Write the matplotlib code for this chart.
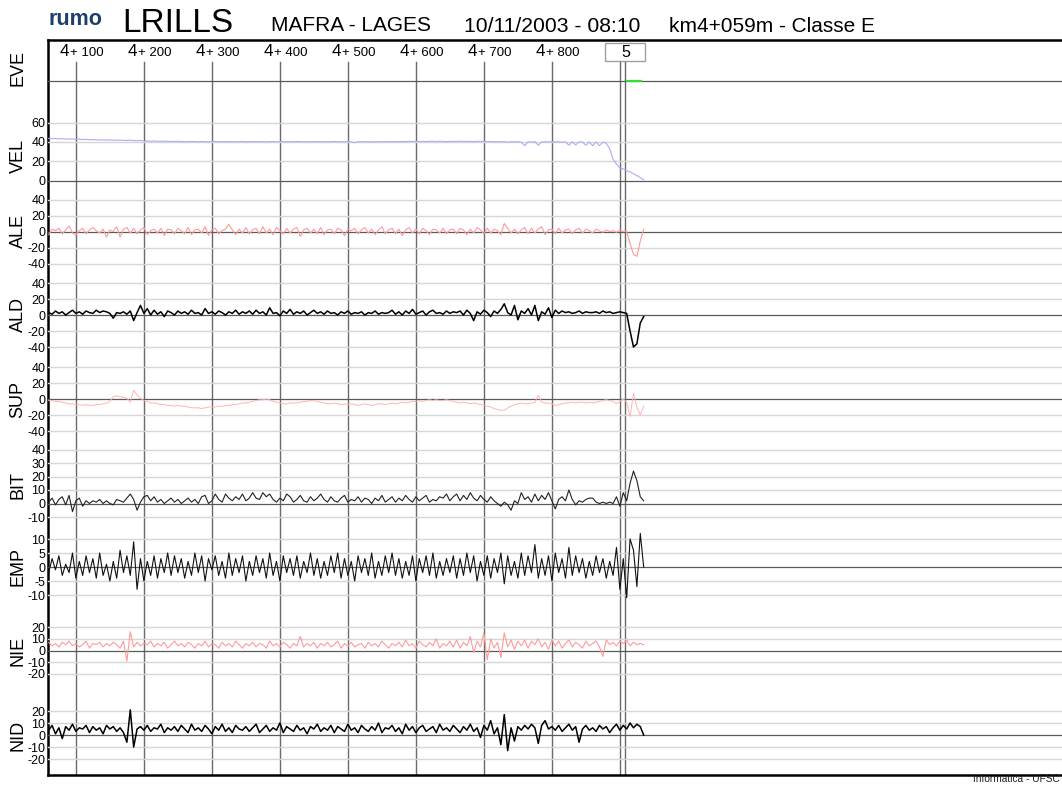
import numpy as np
import matplotlib
matplotlib.use('Agg')
import matplotlib.pyplot as plt
from matplotlib.transforms import blended_transform_factory, offset_copy
from matplotlib.patches import Rectangle

plt.rcParams['font.family'] = ['Liberation Sans', 'DejaVu Sans']

W, H = 1062, 785

# distancia (m) de cada amostra, de 5 em 5 m a partir de km 4+060
dist = np.arange(4060, 4936, 5)

vel = [43.5, 43.4, 43.5, 43.2, 43.3, 43.0, 42.9, 43.1, 42.7, 42.8, 42.5, 42.6, 42.3, 42.4, 42.2, 42.0, 42.1, 41.9, 42.0, 41.8,
       41.7, 41.9, 41.6, 41.5, 41.7, 41.4, 41.2, 41.5, 40.8, 41.0, 40.7, 40.9, 40.6, 40.8, 40.5, 40.7, 40.4, 40.6, 40.5, 40.3,
       40.4, 40.2, 40.5, 40.3, 40.1, 40.4, 40.2, 40.0, 40.3, 40.5, 40.2, 40.1, 40.4, 40.2, 40.3, 40.0, 40.2, 40.4, 40.1, 40.3,
       40.2, 40.4, 40.1, 40.3, 40.0, 40.2, 40.4, 40.1, 40.3, 40.2, 40.0, 40.3, 40.1, 40.4, 40.2, 40.0, 40.3, 40.1, 40.2, 40.4,
       40.1, 40.3, 40.0, 40.2, 40.4, 40.1, 40.2, 40.0, 40.3, 40.1, 39.2, 40.2, 40.0, 40.3, 40.1, 40.2, 40.0, 40.3, 40.1, 40.2,
       40.3, 40.1, 40.4, 40.2, 40.5, 40.3, 40.6, 40.4, 40.5, 40.3, 40.6, 40.4, 40.5, 40.7, 40.4, 40.6, 40.5, 40.3, 40.6, 40.4,
       40.5, 40.7, 40.4, 40.6, 40.5, 40.3, 40.6, 40.4, 40.5, 40.2, 40.4, 40.1, 40.3, 40.0, 40.2, 39.8, 40.1, 39.9, 40.2, 39.8,
       36.0, 40.1, 39.9, 40.2, 36.5, 40.0, 40.1, 39.9, 40.2, 40.0, 40.1, 39.8, 40.0, 36.5, 40.1, 36.8, 40.0, 39.9, 36.5, 40.0,
       36.0, 40.0, 36.2, 39.8, 38.5, 33.0, 22.0, 17.0, 13.0, 12.0, 10.0, 9.0, 7.0, 5.0, 3.0, 0.5]

ale = [-4, 3, 1, 4, -3, 2, 7, -2, -4, 1, 4, -3, 2, 5, 1, -2, 3, -7, 2, 0,
       6, -7, 3, 5, -2, 4, -3, 2, 5, -4, 1, 3, -2, 4, -5, 3, 2, -3, 4, 1,
       -3, 5, -4, 2, 3, -2, 6, -5, 2, 4, -3, 1, 3, 9, 2, -4, 3, -2, 5, -3,
       2, 4, -3, 6, -2, 3, -4, 5, 1, -3, 4, -2, 3, 5, -6, 2, 4, -2, 3, -3,
       5, -4, 2, 3, -3, 4, 2, -5, 3, 1, 4, -3, 2, 5, -2, 3, -4, 2, 6, -3,
       2, 4, -3, 3, -5, 2, 5, -2, 3, -3, 4, 1, -4, 3, 2, -2, 4, -3, 2, 3,
       -3, 4, 2, -4, 3, -2, 5, 2, -3, 4, -2, 3, 1, -4, 10, 4, -2, 3, -3, 2,
       5, -3, 4, -2, 3, 6, -4, 2, 3, -3, 4, -2, 2, 3, -3, 2, 4, -2, 3, 1,
       -2, 3, 1, -1, 2, 0, 1, -1, 2, 0, 0, -15, -29, -31, -12, 3]

ald = [3, 1, 5, 2, 4, 0, 3, 6, 2, 4, 1, 5, 3, 2, 6, 3, 5, 4, 2, -4,
       3, 2, 4, 1, 5, -7, 3, 12, 2, 8, 0, 6, 1, 4, -2, 5, 3, 0, 5, 2,
       4, 1, 6, 2, 3, 0, 8, 2, 4, 1, 5, 3, 0, 4, 2, 6, 1, 4, 2, 5,
       1, 6, 2, 4, 0, 9, 2, 3, -1, 5, 2, 7, 1, 4, 2, 5, 0, 3, 6, 2,
       4, 1, 5, 2, 3, 0, 4, 2, 5, 1, 3, 2, 4, 0, 3, 2, 5, 1, 3, 2,
       3, 6, 1, 4, 0, 5, 2, 7, 1, 3, 5, 0, 4, 6, 2, 3, 1, 5, 2, 4,
       3, 5, 0, 6, 2, -7, 4, 1, 6, 3, -2, 5, 2, 7, 14, 3, 0, 12, -6, 5,
       2, 8, 0, 12, -7, 4, 1, 9, -3, 6, 2, 5, 3, 4, 2, 3, 5, 2, 4, 3,
       3, 4, 2, 5, 3, 4, 2, 3, 4, 3, 2, -20, -40, -36, -10, -2]

sup = [-2, -2, -3, -3, -4, -5, -6, -6, -7, -7, -8, -7, -8, -8, -7, -7, -6, -5, -3, 3,
       4, 3, 2, 1, -4, 11, 5, 1, -2, -3, -5, -5, -6, -7, -7, -8, -8, -9, -8, -9,
       -9, -10, -11, -11, -11, -12, -11, -10, -10, -10, -9, -9, -8, -8, -7, -7, -6, -5, -5, -4,
       -3, -2, -1, -1, 0, -1, -3, -4, -5, -6, -6, -5, -5, -5, -4, -3, -3, -2, -2, -3,
       -4, -5, -6, -6, -5, -6, -7, -6, -7, -6, -7, -8, -7, -6, -7, -8, -7, -6, -6, -7,
       -6, -5, -6, -5, -4, -5, -4, -3, -3, -2, -3, -2, -1, -2, -1, -2, -2, -1, -2, -3,
       -4, -5, -4, -5, -6, -5, -6, -7, -8, -9, -10, -12, -13, -14, -14, -11, -9, -7, -6, -5,
       -6, -6, -5, -4, 5, -4, -5, -5, -6, -8, -7, -6, -5, -5, -4, -5, -4, -4, -5, -4,
       -5, -4, -3, -2, -1, -2, -3, -6, -3, 0, -4, -22, 7, -10, -20, -9]

bit = [1, 4, -1, 3, 5, -1, 6, -6, 2, 4, -2, 2, 0, 2, 1, 3, 0, 2, 0, -1,
       3, 2, 1, 4, 7, 3, -5, 1, 5, 6, 2, 5, 1, 3, 0, 2, 4, 1, 3, 0,
       2, 4, 1, 3, 0, 5, 6, 0, 2, 7, 3, 1, 7, 4, 2, 5, 3, 7, 2, 4,
       8, 4, 3, 8, 5, 7, 3, 1, 4, 2, 7, 5, 1, 3, 6, 2, 1, 5, 2, 4,
       7, 3, 1, 5, 2, 1, 4, 6, 1, 3, 2, 5, 1, 4, 3, 0, 4, 2, 6, 1,
       3, 5, 1, 4, 2, 6, 3, 1, 5, 2, 4, 6, 1, 3, 2, 5, 4, 7, 2, 5,
       7, 2, 6, 3, 8, 4, 2, 6, 3, 1, 5, 2, 0, -2, 1, -1, -5, 2, 0, 8,
       3, 5, 1, 7, 2, 6, 3, 8, 2, -4, 3, 5, 2, 10, 3, -1, 2, 1, 3, 4,
       4, 1, 0, 1, 0, 1, 0, 5, -2, 8, 2, 15, 24, 17, 5, 2]

emp = [-2, 3, -1, 4, -3, 1, -2, 5, -4, 2, -3, 4, -2, 3, -4, 5, -3, 1, -5, 2,
       -4, 6, -2, 4, -3, 9, -8, 3, -5, 2, -3, 4, -4, 3, -2, 5, -3, 4, -2, 3,
       -4, 2, -3, 5, -2, 4, -5, 3, -1, 4, -3, 2, -4, 5, -3, 3, -2, 4, -5, 2,
       -3, 4, -2, 3, -4, 5, -3, 2, -5, 4, -2, 3, -3, 4, -4, 2, -2, 5, -3, 3,
       -4, 2, -3, 4, -2, 5, -4, 3, -3, 2, -5, 4, -2, 3, -3, 5, -4, 2, -3, 4,
       -2, 5, -3, 3, -4, 2, -3, 4, -5, 3, -2, 4, -3, 5, -4, 2, -3, 3, -2, 4,
       -4, 3, -3, 5, -2, 4, -5, 2, -3, 4, -4, 3, -2, 5, -6, 4, -3, 2, -4, 5,
       -3, 4, -2, 8, -4, 3, -3, 4, -5, 5, -2, 3, -4, 7, -3, 4, -2, 3, -4, 2,
       -3, 4, -2, 3, -4, 2, -3, 7, -8, 3, -11, 10, 6, -7, 12, 0]

nie = [7, 4, 6, 3, 7, 5, 8, 4, 6, 3, 5, 8, 2, 6, 5, 7, 3, 6, 4, 7,
       5, 2, 8, -9, 16, 3, 7, 4, 6, 5, 8, 3, 6, 4, 7, 2, 5, 8, 4, 6,
       3, 7, 5, 2, 6, 4, 8, 3, 6, 5, 2, 7, 4, 6, 3, 8, 5, 2, 6, 4,
       7, 3, 6, 5, 2, 8, 4, 6, 3, 7, 5, 2, 6, 4, 12, 3, 6, 4, 7, 2,
       6, 4, 7, 3, 5, 8, 2, 6, 4, 7, 3, 5, 6, 2, 7, 4, 6, 3, 8, 5,
       2, 6, 4, 7, 3, 9, 4, 6, 2, 8, 5, 3, 7, 4, 10, 2, 6, 4, 8, 3,
       9, 2, 7, 4, 12, -2, 8, 3, 15, -8, 10, 2, 7, -6, 15, 3, 9, 1, 8, 4,
       9, 2, 8, 5, 10, 3, 7, 1, 9, 4, 8, 2, 6, 9, 3, 7, 5, 2, 8, 4,
       6, 8, 3, -5, 9, 5, 7, 4, 8, 6, 9, 4, 7, 5, 6, 5]

nid = [4, 8, 1, 6, -3, 7, 4, 9, 3, 6, 5, 8, 2, 7, 4, 6, 1, 8, 5, 7,
       3, 6, 2, -6, 21, -10, 5, 7, 4, 8, 3, 6, 5, 9, 2, 6, 4, 7, 3, 8,
       5, 2, 9, 4, 6, 3, 8, 5, 1, 7, 4, 9, 3, 6, 2, 8, 5, 4, 7, 3,
       6, 9, 2, 5, 8, 3, 6, 4, 10, 2, 7, 5, 3, 8, 4, 6, 1, 7, 5, 9,
       3, 6, 4, 8, 2, 7, 5, 3, 9, 4, 6, 2, 8, 5, 3, 7, 4, 10, 2, 6,
       5, 8, 3, 6, 1, 9, 4, 7, 2, 6, 8, 3, 5, 7, 2, 9, 4, 6, 3, 8,
       5, 2, 7, 4, 9, 3, 6, -2, 8, 4, 12, 1, 6, -8, 17, -13, 6, -5, 7, 4,
       8, 5, 9, 6, -7, 8, 12, 5, 7, 4, 8, 3, 6, 9, 4, 7, -6, 5, 8, 4,
       6, 3, 8, 5, 7, 2, 6, 9, 4, 8, 5, 10, 6, 9, 7, 0]

eve_dist = [4910, 4931]
eve = [0, 0]

km_marks = [4100, 4200, 4300, 4400, 4500, 4600, 4700, 4800]
km_labels = ['100', '200', '300', '400', '500', '600', '700', '800']
post_marks = [4900, 4908]
post_label = '5'

# faixa x do grafico em metros (px 48 -> 4+059, 0.68 px por metro)
X0 = 4059
X1 = X0 + (1070 - 48) / 0.68


def fx(px):
    return px / W


def fy(py):
    return 1 - py / H


fig = plt.figure(figsize=(W / 100, H / 100), dpi=100)

# moldura
base = fig.add_axes([fx(48), fy(775), fx(1070) - fx(48), fy(40) - fy(775)])
base.set_xlim(X0, X1)
base.set_ylim(0, 1)
base.set_xticks([])
base.set_yticks([])
base.spines['right'].set_visible(False)
for s in ['left', 'top', 'bottom']:
    base.spines[s].set_linewidth(1.8)
top_lines = (775 - 62) / (775 - 40)
for m in km_marks + post_marks:
    base.axvline(m, ymin=0, ymax=top_lines, color='#6a6a6a', lw=1)

lbl_tr = blended_transform_factory(base.transData, fig.transFigure)
for m, lab in zip(km_marks, km_labels):
    base.text(m, fy(56.5), '4', ha='right', va='baseline', fontsize=12.3,
              transform=offset_copy(lbl_tr, fig=fig, x=-6.5, units='dots'))
    base.text(m, fy(56.5), '+ ' + lab, ha='left', va='baseline', fontsize=9.5,
              transform=offset_copy(lbl_tr, fig=fig, x=-6, units='dots'))

box_w = 40 / 0.68
base.add_patch(Rectangle((post_marks[1] - box_w / 2, fy(61)), box_w, fy(43) - fy(61),
                         transform=lbl_tr, fc='white', ec='#a0a0a0', lw=1, clip_on=False))
base.text(post_marks[1], fy(57.3), post_label, ha='center', va='baseline', fontsize=11.5,
          transform=lbl_tr)

# canais: nome, dados, cor, espessura, zero (px), px por unidade, ticks, limites, posicao do nome
channels = [
    ('EVE', eve_dist, eve, '#33dd33', 1.6, 81, 20, [], (-1, 1), 0.65),
    ('VEL', dist, vel, '#a8aef5', 0.8, 180.5, 0.965, [0, 20, 40, 60], (-5, 75), 25),
    ('ALE', dist, ale, '#ff9a9a', 0.8, 231.5, 0.8, [-40, -20, 0, 20, 40], (-50, 50), 0),
    ('ALD', dist, ald, '#000000', 1.1, 315, 0.8, [-40, -20, 0, 20, 40], (-50, 50), 0),
    ('SUP', dist, sup, '#ffb4b4', 0.7, 399, 0.8, [-40, -20, 0, 20, 40], (-50, 50), 0),
    ('BIT', dist, bit, '#222222', 0.8, 503.5, 1.35, [-10, 0, 10, 20, 30, 40], (-15, 45), 14),
    ('EMP', dist, emp, '#111111', 0.8, 567, 2.8, [-10, -5, 0, 5, 10], (-13, 13), 0),
    ('NIE', dist, nie, '#ff9a9a', 0.8, 650.5, 1.17, [-20, -10, 0, 10, 20], (-25, 25), 0),
    ('NID', dist, nid, '#000000', 1.1, 735, 1.2, [-20, -10, 0, 10, 20], (-25, 25), 0),
]

for name, xs, ys, color, lw, y0, s, ticks, (vmin, vmax), name_at in channels:
    top = y0 - vmax * s
    bottom = y0 - vmin * s
    ax = fig.add_axes([fx(48), fy(bottom), fx(1070) - fx(48), fy(top) - fy(bottom)])
    ax.set_xlim(X0, X1)
    ax.set_ylim(vmin, vmax)
    ax.patch.set_alpha(0)
    for sp in ax.spines.values():
        sp.set_visible(False)
    ax.set_xticks([])
    ax.set_yticks(ticks)
    ax.set_yticklabels([str(t) for t in ticks])
    ax.tick_params(axis='y', length=0, pad=2.0, labelsize=9)
    for t in ticks:
        if t != 0:
            ax.axhline(t, color='#d6d6d6', lw=1, zorder=1)
    ax.axhline(0, color='#5a5a5a', lw=0.9, zorder=2)
    ax.plot(xs, ys, color=color, lw=lw, zorder=3)
    ax.text((18 - 48) / (1070 - 48), name_at, name, rotation=90, ha='center', va='center',
            fontsize=13, transform=blended_transform_factory(ax.transAxes, ax.transData))

# cabecalho
fig.text(fx(48), fy(25), 'rumo', fontsize=15.5, fontweight='bold', color='#1c3f6b', va='baseline')
fig.text(fx(122), fy(31.7), 'LRILLS', fontsize=24, va='baseline')
fig.text(fx(271), fy(30.7), 'MAFRA - LAGES', fontsize=15, va='baseline')
fig.text(fx(464), fy(31.5), '10/11/2003 - 08:10', fontsize=15.2, va='baseline')
fig.text(fx(669), fy(31.5), 'km4+059m - Classe E', fontsize=15, va='baseline')
fig.text(fx(1060), fy(782.5), 'Informatica - UFSC', fontsize=7.3, va='baseline', ha='right',
         color='#222222')

fig.savefig('out.png', dpi=100)
